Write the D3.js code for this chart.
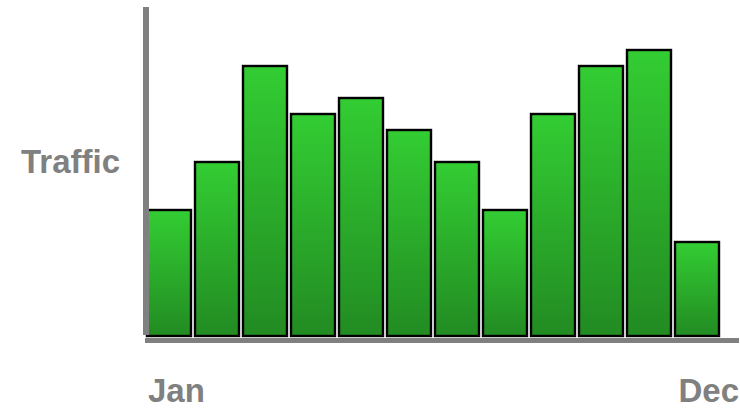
<!DOCTYPE html>
<html>
<head>
<meta charset="utf-8">
<script src="https://cdn.jsdelivr.net/npm/d3@7"></script>
<style>
  body { margin: 0; background: #fff; }
  text { font-family: "Liberation Sans", Arial, sans-serif; font-weight: bold; fill: #808080; }
</style>
</head>
<body>
<script>
var width = 740,
    height = 409;

// monthly traffic
var months = ["Jan","Feb","Mar","Apr","May","Jun","Jul","Aug","Sep","Oct","Nov","Dec"];
var traffic = [8, 11, 17, 14, 15, 13, 11, 8, 14, 17, 18, 6];
var tickLabels = ["Jan", "Dec"];
var yTitle = "Traffic";

var svg = d3.select("body")
            .append("svg")
            .attr("width", width)
            .attr("height", height);

var defs = svg.append("defs");
var grad = defs.append("linearGradient")
               .attr("id", "barFill")
               .attr("x1", 0).attr("y1", 0)
               .attr("x2", 0).attr("y2", 1);
grad.append("stop").attr("offset", "0%").attr("stop-color", "#33cd33");
grad.append("stop").attr("offset", "100%").attr("stop-color", "#228b22");

var x = d3.scaleBand()
          .domain(months)
          .range([146, 722])
          .paddingInner(0)
          .paddingOuter(0);

var y = d3.scaleLinear()
          .domain([0, 20])
          .range([337, 17]);

// bars
svg.append("g")
   .selectAll("rect")
   .data(traffic)
   .enter()
   .append("rect")
   .attr("x", function(d, i) { return x(months[i]) + 1; })
   .attr("y", function(d) { return y(d) + 1; })
   .attr("width", x.bandwidth() - 4)
   .attr("height", function(d) { return y(0) - y(d) - 2; })
   .attr("fill", "url(#barFill)")
   .attr("stroke", "#000")
   .attr("stroke-width", 2.4);

// axes as thick gray lines
svg.append("line")
   .attr("x1", 146).attr("x2", 146)
   .attr("y1", 7).attr("y2", 335)
   .attr("stroke", "#808080")
   .attr("stroke-width", 6);

svg.append("line")
   .attr("x1", 145).attr("x2", 739)
   .attr("y1", 340.5).attr("y2", 340.5)
   .attr("stroke", "#808080")
   .attr("stroke-width", 5);

// labels
svg.append("text")
   .attr("x", 21)
   .attr("y", 173)
   .attr("font-size", 33)
   .text(yTitle);

svg.append("text")
   .attr("x", 148)
   .attr("y", 402)
   .attr("font-size", 33)
   .text(tickLabels[0]);

svg.append("text")
   .attr("x", 739)
   .attr("y", 402)
   .attr("font-size", 33)
   .attr("text-anchor", "end")
   .text(tickLabels[1]);
</script>
</body>
</html>
